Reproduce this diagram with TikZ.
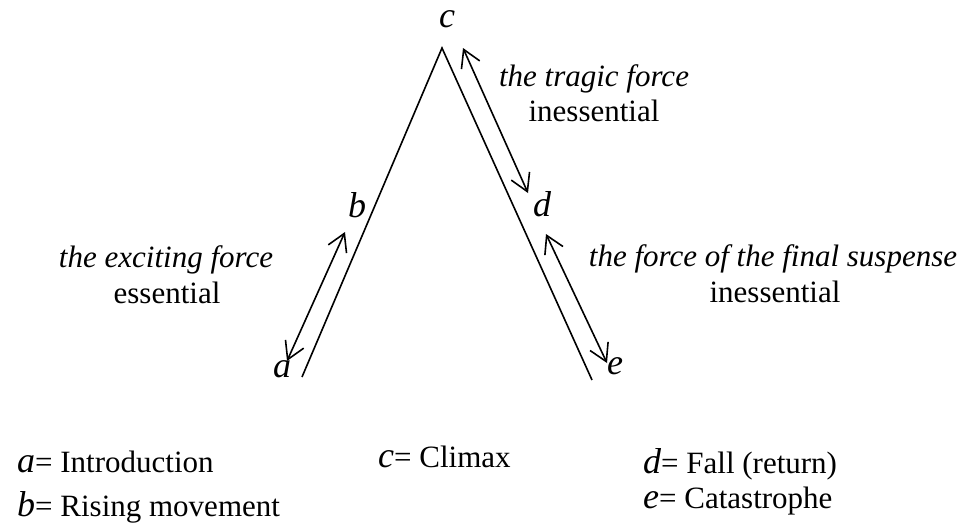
\documentclass[tikz,border=0pt]{standalone}
\usepackage{fontspec}
\setmainfont{Liberation Serif}
\usetikzlibrary{arrows.meta}
\newcommand{\letfont}{\fontsize{36}{36}\selectfont\itshape}
\begin{document}
\begin{tikzpicture}[x=1pt,y=-1pt,
  txt/.style={font=\fontsize{31}{36}\selectfont, inner sep=0pt, anchor=base},
  itx/.style={font=\fontsize{31}{36}\selectfont\itshape, inner sep=0pt, anchor=base},
  let/.style={font=\letfont, inner sep=0pt},
  leg/.style={font=\fontsize{31}{36}\selectfont, inner sep=0pt, anchor=base west},
  side/.style={line width=1.6pt},
  dbl/.style={line width=1.6pt, {Straight Barb[length=17pt,width=20pt,line width=1.6pt]}-{Straight Barb[length=17pt,width=20pt,line width=1.6pt]}}
]
\useasboundingbox (0,0) rectangle (975,528);
% main lines
\coordinate (apex) at (442,48);
\coordinate (lb) at (302,377);
\coordinate (rb) at (592,380);
\draw[side] (lb) -- (apex) -- (rb);
% arrow end points
\coordinate (a1) at (287,361);
\coordinate (b1) at (345,232);
\coordinate (c1) at (463,48);
\coordinate (d1) at (528,193);
\coordinate (d2) at (546,234);
\coordinate (e1) at (607,363);
\draw[dbl] (a1) -- (b1);
\draw[dbl] (c1) -- (d1);
\draw[dbl] (d2) -- (e1);
% letter labels
\node[let, anchor=base, text height=17pt] (lc) at (447,27) {c};
\node[let] (lbl) at (357,205) {b};
\node[let] (ld) at (542,204) {d};
\node[let] (la) at (282,369) {a};
\node[let] (le) at (615,366) {e};
% force texts
\node[itx] (tf1) at (594,86) {the tragic force};
\node[txt] (tf2) at (594,121) {inessential};
\node[itx] (ef1) at (166,267) {the exciting force};
\node[txt] (ef2) at (167,303) {essential};
\node[itx] (ff1) at (773,266) {the force of the final suspense};
\node[txt] (ff2) at (775,302) {inessential};
% legend
\node[leg] (g1) at (17,472) {{\letfont a}= Introduction};
\node[leg] (g2) at (17,516) {{\letfont b}= Rising movement};
\node[leg] (g3) at (378,467) {{\letfont c}= Climax};
\node[leg] (g4) at (643,473) {{\letfont d}= Fall (return)};
\node[leg] (g5) at (643,508) {{\letfont e}= Catastrophe};
\end{tikzpicture}
\end{document}
